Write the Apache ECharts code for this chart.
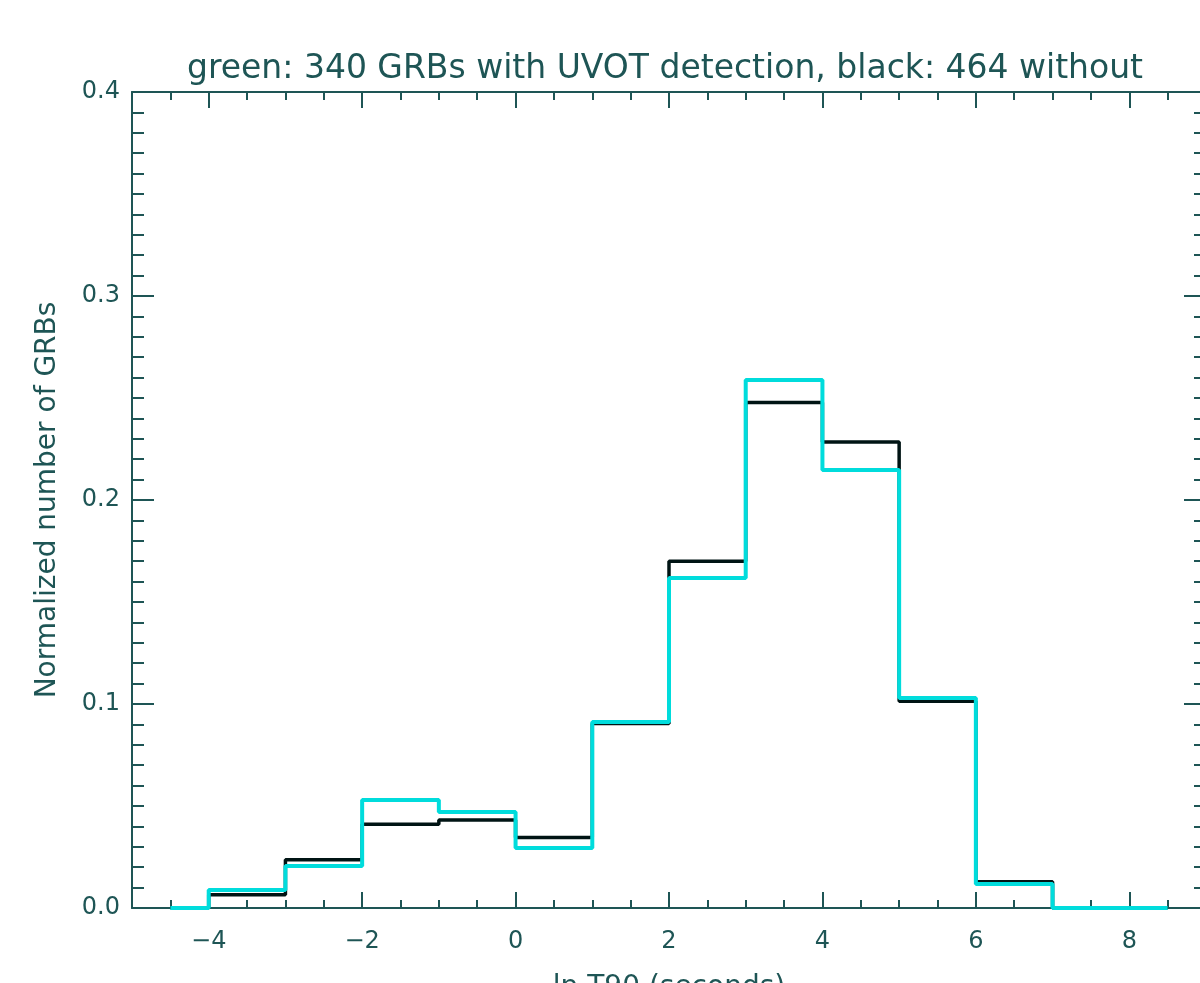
<!DOCTYPE html>
<html>
<head>
<meta charset="utf-8">
<script src="https://cdn.jsdelivr.net/npm/echarts@6/dist/echarts.min.js"></script>
<style>
  html, body { margin: 0; padding: 0; background: #fff; }
  #chart { width: 1200px; height: 983px; }
</style>
</head>
<body>
<div id="chart"></div>
<script>
// bin centres of ln T90 (seconds), one unit wide
const binCenters = [-4.5, -3.5, -2.5, -1.5, -0.5, 0.5, 1.5, 2.5, 3.5, 4.5, 5.5, 6.5, 7.5, 8.5];
// normalized counts, black: 464 without UVOT detection
const blackValues = [0, 0.0065, 0.0237, 0.041, 0.0431, 0.0345, 0.0905, 0.170, 0.2478, 0.2284, 0.1013, 0.0129, 0, 0];
// normalized counts, cyan: 340 with UVOT detection
const cyanValues = [0, 0.0088, 0.0206, 0.0529, 0.047, 0.0294, 0.0912, 0.1618, 0.2588, 0.2147, 0.103, 0.0118, 0, 0];
// labelled x ticks
const xTicks = [-4, -2, 0, 2, 4, 6, 8];

const axisColor = "#1e5555";
const font = "DejaVu Sans";

let myChart = echarts.init(document.getElementById("chart"));

const minus = (v) => String(v).replace("-", "\u2212");
const tickStyle = { color: axisColor, width: 2 };

// major x ticks at the even values
function majorX(pos, showLabel) {
  return {
    type: "value",
    position: pos,
    min: -5,
    max: 9,
    interval: 0.5,
    axisLine: { show: true, onZero: false, lineStyle: { color: axisColor, width: 2 } },
    axisTick: { show: true, inside: true, length: 16, customValues: xTicks, lineStyle: tickStyle },
    axisLabel: showLabel
      ? { show: true, customValues: xTicks, color: axisColor, fontFamily: font, fontSize: 24, margin: 22, formatter: (v) => minus(v) }
      : { show: false },
    splitLine: { show: false },
  };
}
// minor x ticks every 0.5
function minorX(pos) {
  return {
    type: "value",
    position: pos,
    min: -5,
    max: 9,
    interval: 0.5,
    axisLine: { show: false, onZero: false },
    axisTick: { show: true, inside: true, length: 8, lineStyle: tickStyle },
    axisLabel: { show: false },
    splitLine: { show: false },
  };
}
function yAx(pos, showLabel) {
  return {
    type: "value",
    position: pos,
    min: 0,
    max: 0.4,
    interval: 0.1,
    axisLine: { show: true, onZero: false, lineStyle: { color: axisColor, width: 2 } },
    axisTick: { show: true, inside: true, length: 22, lineStyle: tickStyle },
    minorTick: { show: true, splitNumber: 10, length: 12, lineStyle: tickStyle },
    axisLabel: showLabel
      ? { show: true, color: axisColor, fontFamily: font, fontSize: 24, margin: 12, formatter: (v) => v.toFixed(1) }
      : { show: false },
    splitLine: { show: false },
  };
}

let xBottom = majorX("bottom", true);
xBottom.name = "ln T90 (seconds)";
xBottom.nameLocation = "middle";
xBottom.nameGap = 66;
xBottom.nameTextStyle = { color: axisColor, fontFamily: font, fontSize: 28 };

let yLeft = yAx("left", true);
yLeft.name = "Normalized number of GRBs";
yLeft.nameLocation = "middle";
yLeft.nameGap = 70;
yLeft.nameTextStyle = { color: axisColor, fontFamily: font, fontSize: 28 };

let option = {
  backgroundColor: "#fff",
  animation: false,
  title: {
    text: "green: 340 GRBs with UVOT detection, black: 464 without",
    left: 660,
    textAlign: "center",
    top: 48,
    textStyle: { color: axisColor, fontFamily: font, fontSize: 33, fontWeight: "normal" },
  },
  grid: { left: 132, top: 92, width: 1074, height: 816, outerBoundsMode: "none" },
  xAxis: [xBottom, majorX("top", false), minorX("bottom"), minorX("top")],
  yAxis: [yLeft, yAx("right", false)],
  series: [
    {
      name: "without",
      type: "line",
      step: "middle",
      showSymbol: false,
      lineStyle: { color: "#001414", width: 3.5 },
      data: binCenters.map((x, i) => [x, blackValues[i]]),
      z: 2,
    },
    {
      name: "with UVOT",
      type: "line",
      step: "middle",
      showSymbol: false,
      lineStyle: { color: "#00dcdc", width: 4 },
      data: binCenters.map((x, i) => [x, cyanValues[i]]),
      z: 3,
    },
  ],
};

myChart.setOption(option);
</script>
</body>
</html>
